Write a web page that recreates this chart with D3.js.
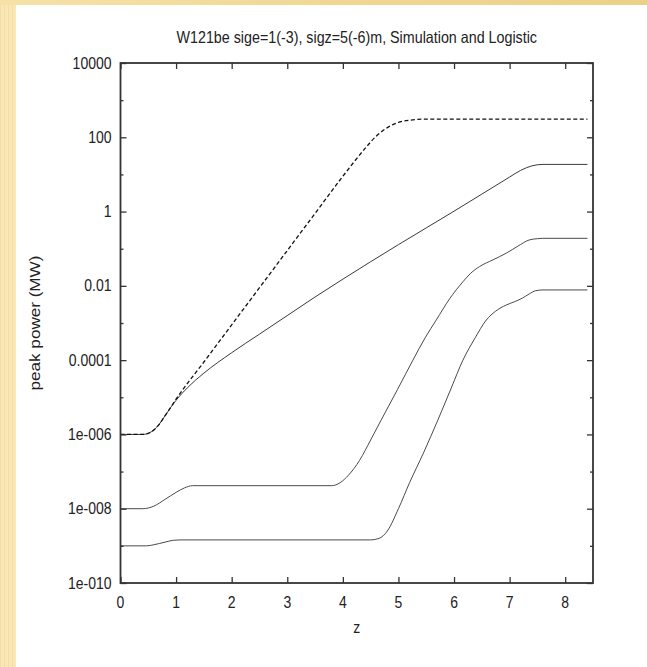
<!DOCTYPE html>
<html>
<head>
<meta charset="utf-8">
<script src="https://cdn.jsdelivr.net/npm/d3@7"></script>
<style>
  html, body { margin: 0; padding: 0; background: #ffffff; }
  svg { display: block; }
  text { font-family: "Liberation Sans", Arial, Helvetica, sans-serif; fill: #222; }
</style>
</head>
<body>
<svg id="chart" width="647" height="667"></svg>
<script>
// Peak power along the undulator, z in metres, power as log10(MW).
const logisticZ    = [0, 0.4, 0.5, 0.6, 0.7, 0.8, 0.9, 1.0, 1.5, 2.0, 2.5, 3.0, 3.5, 4.0, 4.4, 4.6, 4.8, 5.0, 5.2, 5.5, 8.4];
const logisticLogP = [-6, -6, -5.97, -5.88, -5.72, -5.5, -5.28, -5.05, -4.05, -3.05, -2.05, -1.05, -0.05, 0.95, 1.7, 2.03, 2.26, 2.4, 2.46, 2.49, 2.49];

const fundamentalZ    = [0, 0.4, 0.5, 0.6, 0.7, 0.8, 0.9, 1.0, 1.2, 1.5, 2.0, 2.5, 3.0, 3.5, 4.0, 4.5, 5.0, 5.5, 6.0, 6.5, 7.0, 7.2, 7.4, 7.6, 8.4];
const fundamentalLogP = [-6, -6, -5.97, -5.88, -5.72, -5.5, -5.28, -5.08, -4.75, -4.35, -3.8, -3.3, -2.8, -2.3, -1.82, -1.35, -0.89, -0.44, 0.01, 0.47, 0.93, 1.11, 1.23, 1.27, 1.27];

const thirdZ    = [0, 0.4, 0.6, 0.8, 1.0, 1.15, 1.3, 3.8, 3.95, 4.1, 4.3, 4.5, 4.69, 4.98, 5.26, 5.48, 5.68, 5.92, 6.16, 6.3, 6.46, 6.7, 6.94, 7.15, 7.35, 7.5, 7.59, 8.4];
const thirdLogP = [-8, -8, -7.93, -7.75, -7.56, -7.44, -7.38, -7.38, -7.3, -7.1, -6.7, -6.15, -5.61, -4.8, -4.0, -3.4, -2.92, -2.35, -1.89, -1.66, -1.48, -1.3, -1.12, -0.93, -0.765, -0.73, -0.72, -0.72];

const fifthZ    = [0, 0.47, 0.6, 0.8, 0.95, 1.07, 4.5, 4.65, 4.8, 5.0, 5.2, 5.45, 5.71, 5.95, 6.16, 6.38, 6.58, 6.75, 6.94, 7.1, 7.23, 7.35, 7.47, 7.6, 8.4];
const fifthLogP = [-9, -9, -8.97, -8.9, -8.85, -8.84, -8.84, -8.8, -8.6, -8.0, -7.3, -6.5, -5.61, -4.75, -4.0, -3.4, -2.92, -2.68, -2.515, -2.42, -2.33, -2.22, -2.13, -2.11, -2.11];

const xTicks = [0, 1, 2, 3, 4, 5, 6, 7, 8];
const yMajorTicks = [1e4, 1e2, 1, 1e-2, 1e-4, 1e-6, 1e-8, 1e-10];
const yMajorLabels = ["10000", "100", "1", "0.01", "0.0001", "1e-006", "1e-008", "1e-010"];
const yMinorTicks = [1e3, 1e1, 1e-1, 1e-3, 1e-5, 1e-7, 1e-9];

const titleText = "W121be sige=1(-3), sigz=5(-6)m, Simulation and Logistic";
const xLabel = "z";
const yLabel = "peak power (MW)";

const svg = d3.select("#chart");
const W = 647, H = 667;
const plot = { left: 120.5, right: 593, top: 63, bottom: 583 };
const TALL = 1.18;   // glyphs are drawn slightly tall and narrow

// Slide background: golden top band and pale left band around a white panel.
const defs = svg.append("defs");
const stripes = defs.append("pattern")
  .attr("id", "leftStripes").attr("patternUnits", "userSpaceOnUse")
  .attr("width", 4).attr("height", 4);
stripes.append("rect").attr("width", 4).attr("height", 4).attr("fill", "#f9e8b6");
stripes.append("rect").attr("width", 1).attr("height", 4).attr("fill", "#f3dea5");
const topGrad = defs.append("linearGradient").attr("id", "topBand");
topGrad.append("stop").attr("offset", "0%").attr("stop-color", "#f6e1a8");
topGrad.append("stop").attr("offset", "50%").attr("stop-color", "#f0d894");
topGrad.append("stop").attr("offset", "100%").attr("stop-color", "#ebd088");

svg.append("rect").attr("x", 0).attr("y", 0).attr("width", W).attr("height", H).attr("fill", "url(#leftStripes)");
svg.append("rect").attr("x", 0).attr("y", 0).attr("width", W).attr("height", 5).attr("fill", "url(#topBand)");
svg.append("rect").attr("x", 16).attr("y", 5).attr("width", W - 16).attr("height", H - 5).attr("fill", "#ffffff");

const x = d3.scaleLinear().domain([0, 8.5]).range([plot.left, plot.right]);
const y = d3.scaleLog().domain([1e-10, 1e4]).range([plot.bottom, plot.top]);

const toPoints = (zs, lp) => zs.map((z, i) => [z, Math.pow(10, lp[i])]);
const line = d3.line().x(d => x(d[0])).y(d => y(d[1])).curve(d3.curveMonotoneX);

const g = svg.append("g");

// Curves
g.append("path").datum(toPoints(fifthZ, fifthLogP))
  .attr("d", line).attr("fill", "none").attr("stroke", "#4a4a4a").attr("stroke-width", 1);
g.append("path").datum(toPoints(thirdZ, thirdLogP))
  .attr("d", line).attr("fill", "none").attr("stroke", "#4a4a4a").attr("stroke-width", 1);
g.append("path").datum(toPoints(fundamentalZ, fundamentalLogP))
  .attr("d", line).attr("fill", "none").attr("stroke", "#3a3a3a").attr("stroke-width", 1);
g.append("path").datum(toPoints(logisticZ, logisticLogP))
  .attr("d", line).attr("fill", "none").attr("stroke", "#111").attr("stroke-width", 1.3)
  .attr("stroke-dasharray", "4,2.5");

// Inward ticks on all four sides
const tickStyle = sel => {
  sel.select(".domain").remove();
  sel.selectAll(".tick line").attr("stroke", "#333").attr("stroke-width", 1.3);
  sel.selectAll(".tick text").remove();
};
g.append("g").attr("transform", `translate(0,${plot.bottom})`)
  .call(d3.axisBottom(x).tickValues(xTicks).tickSize(-6)).call(tickStyle);
g.append("g").attr("transform", `translate(0,${plot.top})`)
  .call(d3.axisTop(x).tickValues(xTicks).tickSize(-6)).call(tickStyle);
g.append("g").attr("transform", `translate(${plot.left},0)`)
  .call(d3.axisLeft(y).tickValues(yMajorTicks).tickSize(-6)).call(tickStyle);
g.append("g").attr("transform", `translate(${plot.left},0)`)
  .call(d3.axisLeft(y).tickValues(yMinorTicks).tickSize(-3)).call(tickStyle);
g.append("g").attr("transform", `translate(${plot.right},0)`)
  .call(d3.axisRight(y).tickValues(yMajorTicks).tickSize(-6)).call(tickStyle);
g.append("g").attr("transform", `translate(${plot.right},0)`)
  .call(d3.axisRight(y).tickValues(yMinorTicks).tickSize(-3)).call(tickStyle);

// Frame
g.append("rect")
  .attr("x", plot.left).attr("y", plot.top)
  .attr("width", plot.right - plot.left).attr("height", plot.bottom - plot.top)
  .attr("fill", "none").attr("stroke", "#333").attr("stroke-width", 1.8);

// Tick labels
svg.append("g").selectAll("text").data(xTicks).join("text")
  .attr("transform", d => `translate(${x(d)},${608}) scale(1,${TALL})`)
  .attr("text-anchor", "middle").attr("font-size", 14).text(d => d3.format("d")(d));
svg.append("g").selectAll("text").data(yMajorTicks).join("text")
  .attr("transform", d => `translate(${plot.left - 9},${y(d) + 5.5}) scale(1,${TALL})`)
  .attr("text-anchor", "end").attr("font-size", 14).text((d, i) => yMajorLabels[i]);

// Title and axis labels
svg.append("text").attr("transform", `translate(${(plot.left + plot.right) / 2},43) scale(1,${TALL})`)
  .attr("text-anchor", "middle").attr("font-size", 14.3).text(titleText);
svg.append("text").attr("transform", `translate(${(plot.left + plot.right) / 2},633) scale(1,${TALL})`)
  .attr("text-anchor", "middle").attr("font-size", 14).text(xLabel);
svg.append("text").attr("transform", `translate(40,${(plot.top + plot.bottom) / 2}) rotate(-90) scale(${TALL},1)`)
  .attr("text-anchor", "middle").attr("font-size", 14.5).text(yLabel);
</script>
</body>
</html>
